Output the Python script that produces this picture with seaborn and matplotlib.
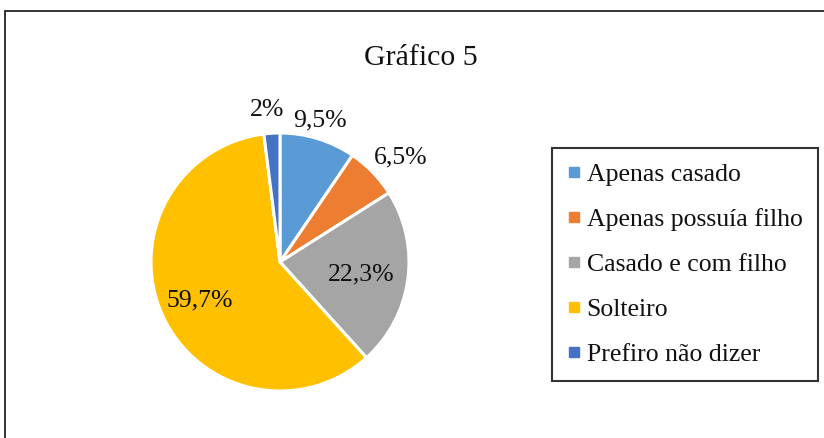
import numpy as np
import matplotlib
matplotlib.use("Agg")
import matplotlib.pyplot as plt
from matplotlib.patches import Rectangle
from matplotlib.lines import Line2D
import seaborn as sns

categories = ["Apenas casado", "Apenas possuía filho", "Casado e com filho", "Solteiro", "Prefiro não dizer"]
values = [9.5, 6.5, 22.3, 59.7, 2.0]
value_labels = ["9,5%", "6,5%", "22,3%", "59,7%", "2%"]
colors = ["#5B9BD5", "#ED7D31", "#A5A5A5", "#FFC000", "#4472C4"]
label_radii = [1.14, 1.24, 0.635, 0.687, 1.18]
label_angle_shift = [1.4, -3.1, -0.7, 0.7, 1.3]

sns.set_theme(style="white")
plt.rcParams["font.family"] = ["Liberation Serif", "DejaVu Serif"]

W, H = 824, 438
fig = plt.figure(figsize=(W / 100, H / 100), dpi=100)
fig.patch.set_facecolor("white")

R = 129.0
cx, cy = 280.0, 262.0
lim = 1.3
side = 2 * lim * R
ax = fig.add_axes([(cx - side / 2) / W, (H - cy - side / 2) / H, side / W, side / H])
wedges, _ = ax.pie(values, colors=colors, startangle=90, counterclock=False,
                   wedgeprops=dict(edgecolor="white", linewidth=2.2))
ax.set_xlim(-lim, lim)
ax.set_ylim(-lim, lim)
ax.set_aspect("equal")
ax.axis("off")

for w, lab, r, da in zip(wedges, value_labels, label_radii, label_angle_shift):
    ang = np.deg2rad((w.theta1 + w.theta2) / 2 + da)
    ax.text(r * np.cos(ang), r * np.sin(ang), lab, ha="center", va="center",
            fontsize=18.5, color="#111111")

fig.text(421 / W, 1 - 58 / H, "Gráfico 5", ha="center", va="center", fontsize=21.5, color="#111111")

handles = [Line2D([0], [0], marker="s", linestyle="none", markersize=6.5,
                  markerfacecolor=c, markeredgecolor=c) for c in colors]
leg = fig.legend(handles, categories, loc="upper left",
                 bbox_to_anchor=(552 / W, 1 - 148 / H), bbox_transform=fig.transFigure,
                 fontsize=18.5, frameon=True, fancybox=False, borderaxespad=0,
                 handlelength=0.5, handletextpad=0.25, labelspacing=0.85,
                 borderpad=0.6)
leg.get_frame().set_edgecolor("black")
leg.get_frame().set_linewidth(1.5)
for t in leg.get_texts():
    t.set_color("#111111")

fig.add_artist(Rectangle((5 / W, -0.1), 1.2, 1 - 11 / H + 0.1, transform=fig.transFigure,
                         fill=False, edgecolor="#222222", linewidth=1.3))

fig.savefig("out.png", dpi=100, facecolor="white")
